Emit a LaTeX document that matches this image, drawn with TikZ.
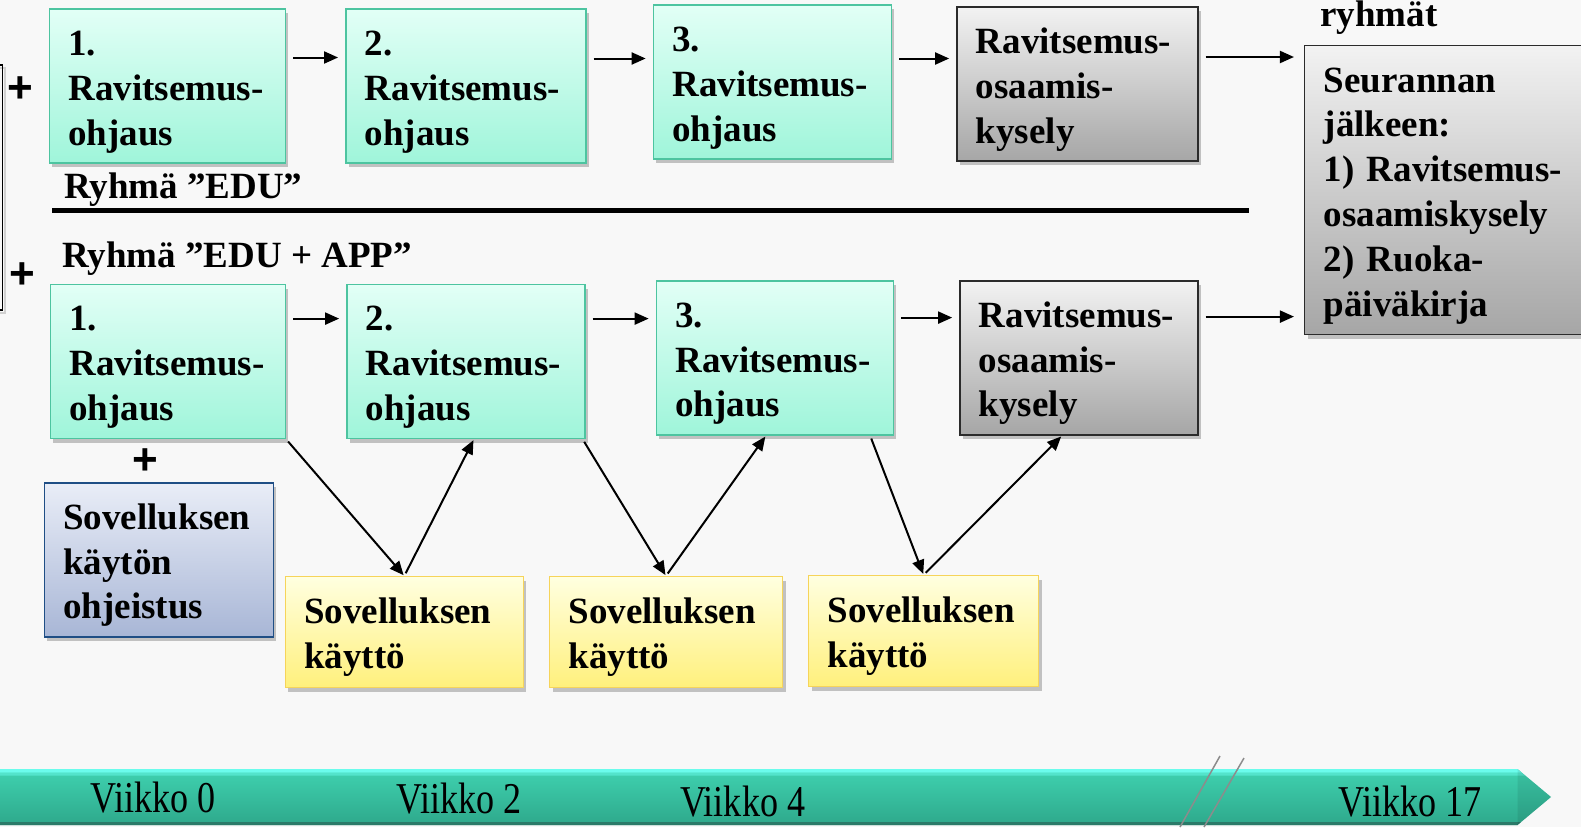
\documentclass[tikz,border=0pt]{standalone}
\usepackage{fontspec}
\setmainfont{Liberation Serif}
\newfontfamily\plusfamily{Liberation Sans}
\usetikzlibrary{arrows.meta,shadows,calc}
\definecolor{bgc}{HTML}{F8F8F8}
\definecolor{tealtop}{HTML}{E2FFF6}
\definecolor{tealbot}{HTML}{9FF5DA}
\definecolor{tealline}{HTML}{4DC4A0}
\definecolor{graytop}{HTML}{F2F2F2}
\definecolor{graybot}{HTML}{A6A6A6}
\definecolor{grayline}{HTML}{2B2B2B}
\definecolor{bluetop}{HTML}{E9EDF7}
\definecolor{bluebot}{HTML}{A8B6D6}
\definecolor{blueline}{HTML}{1F4E85}
\definecolor{yeltop}{HTML}{FFFFE0}
\definecolor{yelbot}{HTML}{FFF07C}
\definecolor{yelline}{HTML}{F6D45A}
\definecolor{barlight}{HTML}{6EFFF0}
\definecolor{bartop}{HTML}{3FD2B0}
\definecolor{barbot}{HTML}{2EA88B}
\definecolor{bardark}{HTML}{2A6F60}
\definecolor{slashc}{HTML}{8C8C8C}
\newcommand{\boxfont}{\fontsize{37}{44.8}\selectfont\bfseries}
\newcommand{\weekfont}{\fontsize{44}{50}\selectfont}
\newcommand{\plusfont}{\plusfamily\fontsize{44}{50}\selectfont\bfseries}
\begin{document}
\begin{tikzpicture}[x=1pt,y=-1pt,
  box/.style={line width=1.5pt, align=left, inner xsep=19pt, inner ysep=0pt,
    font=\boxfont, minimum height=154pt,
    execute at begin node={\rule{0pt}{36pt}},
    drop shadow={shadow xshift=3pt,shadow yshift=-4pt,opacity=0.22,fill=black}},
  tealbox/.style={box, draw=tealline, top color=tealtop, bottom color=tealbot},
  graybox/.style={box, draw=grayline, top color=graytop, bottom color=graybot},
  bluebox/.style={box, draw=blueline, top color=bluetop, bottom color=bluebot},
  yelbox/.style={box, draw=yelline, top color=yeltop, bottom color=yelbot, minimum height=111pt},
  arr/.style={line width=2pt, -{Triangle[length=14pt,width=12pt]}, shorten <=7pt, shorten >=7pt},
  darr/.style={line width=2pt, -{Triangle[length=14pt,width=12pt]}, shorten <=3pt, shorten >=1pt},
  lbl/.style={font=\boxfont, inner sep=0pt, anchor=base west},
  plus/.style={font=\plusfont, inner sep=0pt},
  week/.style={font=\weekfont, inner sep=0pt, anchor=base}
]
\useasboundingbox (0,0) rectangle (1581,827);
\clip (0,0) rectangle (1581,827);
\fill[bgc] (0,0) rectangle (1581,827);

% left bracket
\draw[black!18, line width=2pt] (-10,67.5) -- (5,67.5) -- (5,312.5) -- (-10,312.5);
\draw[line width=1.6pt] (-10,65) -- (2.5,65) -- (2.5,310) -- (-10,310);

% top row
\node[tealbox, text width=198pt] (T1) at (167.4,86.2) {1.\\Ravitsemus-\\ohjaus};
\node[tealbox, text width=202pt] (T2) at (465.8,86.2) {2.\\Ravitsemus-\\ohjaus};
\node[tealbox, text width=200pt] (T3) at (772.4,82.2) {3.\\Ravitsemus-\\ohjaus};
\node[graybox, text width=203pt] (T4) at (1077.4,84.2) {Ravitsemus-\\osaamis-\\kysely};
\node[graybox, text width=258pt, minimum height=289pt] (R) at (1452.7,190.1) {Seurannan\\jälkeen:\\1) Ravitsemus-\\osaamiskysely\\2) Ruoka-\\päiväkirja};
\node[lbl] (ryh) at (1320,27) {ryhmät};

% bottom row
\node[tealbox, text width=197pt] (B1) at (167.9,361.5) {1.\\Ravitsemus-\\ohjaus};
\node[tealbox, text width=200pt] (B2) at (465.9,361.5) {2.\\Ravitsemus-\\ohjaus};
\node[tealbox, text width=199pt] (B3) at (774.9,358) {3.\\Ravitsemus-\\ohjaus};
\node[graybox, text width=200pt] (B4) at (1078.9,358) {Ravitsemus-\\osaamis-\\kysely};

\node[bluebox, text width=191pt] (BL) at (158.8,560.1) {Sovelluksen\\käytön\\ohjeistus};
\node[yelbox, text width=200pt] (Y1) at (404.3,632.2) {Sovelluksen\\käyttö};
\node[yelbox, text width=195pt] (Y2) at (666,632.2) {Sovelluksen\\käyttö};
\node[yelbox, text width=192pt] (Y3) at (923.6,631.2) {Sovelluksen\\käyttö};

% labels and plus signs
\node[lbl] (edu) at (64,198) {Ryhmä ”EDU”};
\node[lbl] (eduapp) at (62,267) {Ryhmä ”EDU + APP”};
\node[plus] (p1) at (20,90) {+};
\node[plus] (p2) at (22,276) {+};
\node[plus] (p3) at (145,462) {+};

% separator
\draw[line width=4.5pt] (52.4,210.7) -- (1249,210.7);

% top arrows
\path ([yshift=28.7pt]T1.east) coordinate (a1);
\path ([yshift=27.7pt]T2.east) coordinate (a2);
\path ([yshift=23.7pt]T3.east) coordinate (a3);
\path ([yshift=27.2pt]T4.east) coordinate (a4);
\draw[arr] (a1) -- (a1 -| T2.west);
\draw[arr] (a2) -- (a2 -| T3.west);
\draw[arr] (a3) -- (a3 -| T4.west);
\draw[arr, shorten >=10pt] (a4) -- (a4 -| R.west);

% bottom arrows
\path ([yshift=42.9pt]B1.east) coordinate (b1);
\path ([yshift=42.9pt]B2.east) coordinate (b2);
\path ([yshift=40.4pt]B3.east) coordinate (b3);
\path ([yshift=41.4pt]B4.east) coordinate (b4);
\draw[arr] (b1) -- (b1 -| B2.west);
\draw[arr] (b2) -- (b2 -| B3.west);
\draw[arr] (b3) -- (b3 -| B4.west);
\draw[arr, shorten >=10pt] (b4) -- (b4 -| R.west);

% diagonal arrows
\draw[darr] (B1.south east) -- (Y1.north);
\draw[darr] (Y1.north) -- ([xshift=8pt]B2.south);
\draw[darr] ([xshift=-3pt]B2.south east) -- (Y2.north);
\draw[darr] (Y2.north) -- ([xshift=-9pt]B3.south);
\draw[darr] ([xshift=-24pt]B3.south east) -- (Y3.north);
\draw[darr] (Y3.north) -- ([xshift=-17pt]B4.south);

% timeline bar
\shade[top color=bartop, bottom color=barbot] (-5,769) -- (1517.5,769) -- (1551,797) -- (1517.5,825) -- (-5,825) -- cycle;
\fill[barlight, opacity=0.95] (-5,769) -- (1517.5,769) -- (1521.5,772.5) -- (-5,772.5) -- cycle;
\fill[barlight, opacity=0.45] (-5,772.5) -- (1521.5,772.5) -- (1525,775.5) -- (-5,775.5) -- cycle;
\fill[bardark, opacity=0.8] (-5,822) -- (1521,822) -- (1517.5,825) -- (-5,825) -- cycle;
\fill[black, opacity=0.08] (1517.5,769) -- (1551,797) -- (1517.5,825) -- cycle;

% slash marks
\draw[slashc, line width=1.5pt] (1220,756) -- (1180,827);
\draw[slashc, line width=1.5pt] (1244,758) -- (1204,827);

% week labels
\node[week] (w0) at (152.8,812) {\scalebox{0.82}[1]{Viikko 0}};
\node[week] (w2) at (459,813) {\scalebox{0.82}[1]{Viikko 2}};
\node[week] (w4) at (742.6,816) {\scalebox{0.82}[1]{Viikko 4}};
\node[week] (w17) at (1410,816) {\scalebox{0.82}[1]{Viikko 17}};
\end{tikzpicture}
\end{document}
